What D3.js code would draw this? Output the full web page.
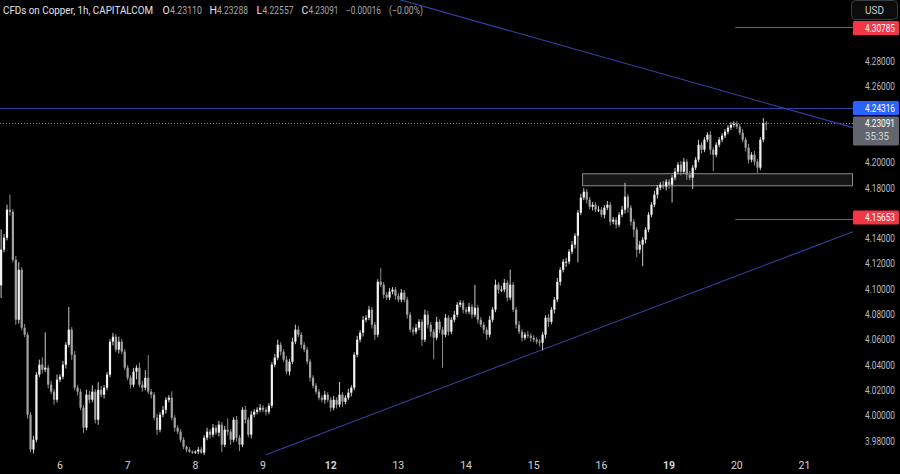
<!DOCTYPE html>
<html><head><meta charset="utf-8">
<script src="https://cdn.jsdelivr.net/npm/d3@7"></script>
<style>html,body{margin:0;padding:0;background:#000;overflow:hidden}svg{display:block}</style>
</head><body><svg id="c" width="900" height="474"></svg>
<script>
// ---- data ----
const firstOpen = 4.1030;
const closes = [
 // day 5 (partial)
 4.1312,4.1406,4.1628,4.1612,4.1232,4.0758,4.1153,4.0695,4.0640,4.0008,3.9732,3.9810,4.0324,4.0403,4.0364,4.0379,4.0245,4.0190,4.0126,4.0285,
 // day 6
 4.0308,4.0403,4.0561,4.0680,4.0482,4.0221,4.0190,4.0063,3.9905,4.0166,4.0126,4.0190,3.9968,4.0205,4.0166,4.0221,4.0324,4.0585,4.0624,4.0522,4.0585,4.0506,4.0379,
 // day 7
 4.0300,4.0245,4.0348,4.0379,4.0245,4.0221,4.0300,4.0190,4.0166,3.9984,3.9889,4.0008,4.0047,4.0126,4.0142,3.9984,3.9905,3.9874,3.9810,3.9755,3.9732,3.9716,3.9708,
 // day 8
 3.9716,3.9732,3.9708,3.9826,3.9874,3.9850,3.9905,3.9866,3.9929,3.9771,3.9889,3.9874,3.9810,3.9968,3.9826,3.9771,4.0047,3.9968,3.9850,4.0008,4.0031,4.0047,4.0063,
 // day 9
 4.0047,4.0031,4.0079,4.0403,4.0458,4.0561,4.0506,4.0443,4.0348,4.0427,4.0585,4.0680,4.0640,4.0561,4.0522,4.0427,4.0300,4.0237,4.0190,4.0142,4.0126,4.0166,4.0126,
 // day 12
 4.0063,4.0126,4.0087,4.0166,4.0110,4.0142,4.0182,4.0221,4.0482,4.0601,4.0656,4.0758,4.0774,4.0838,4.0719,4.0640,4.1058,4.1035,4.0956,4.0933,4.0980,4.0996,4.0948,
 // day 13
 4.0917,4.0972,4.0917,4.0798,4.0680,4.0664,4.0695,4.0742,4.0601,4.0798,4.0719,4.0664,4.0616,4.0742,4.0680,4.0640,4.0774,4.0664,4.0758,4.0798,4.0877,4.0893,4.0838,
 // day 14
 4.0822,4.0861,4.0798,4.0853,4.0758,4.0719,4.0680,4.0640,4.0758,4.0838,4.1035,4.0996,4.0996,4.1050,4.0933,4.1035,4.0838,4.0719,4.0664,4.0616,4.0640,4.0632,4.0616,
 // day 15
 4.0601,4.0585,4.0577,4.0640,4.0774,4.0742,4.0838,4.0917,4.1058,4.1153,4.1217,4.1217,4.1296,4.1351,4.1422,4.1604,4.1723,4.1770,4.1707,4.1651,4.1667,4.1628,4.1628,
 // day 16
 4.1588,4.1644,4.1667,4.1533,4.1549,4.1509,4.1588,4.1628,4.1731,4.1644,4.1533,4.1470,4.1312,4.1351,4.1391,4.1470,4.1588,4.1667,4.1746,4.1802,4.1825,4.1810,4.1849,
 // day 19
 4.1825,4.1881,4.1928,4.1983,4.1928,4.2007,4.1904,4.1881,4.1960,4.2023,4.2141,4.2102,4.2181,4.2220,4.2102,4.2062,4.2141,4.2181,4.2213,4.2244,4.2276,4.2299,4.2307,
 // day 20 (partial)
 4.2284,4.2236,4.2181,4.2118,4.2023,4.2062,4.2007,4.1960,4.2181,4.2311,4.23091
];
const wickUp = [
 .016,.003,.004,.012,.002,.003,.006,.002,.003,.002,.002,.003,.002,.004,.006,.028,.002,.003,.002,.004,
 .002,.003,.002,.018,.002,.003,.002,.002,.002,.004,.003,.005,.002,.006,.003,.002,.002,.002,.003,.002,.004,.002,.002,
 .002,.002,.003,.002,.004,.003,.006,.018,.002,.002,.003,.002,.003,.002,.002,.005,.002,.002,.002,.002,.001,.002,.001,
 .001,.002,.002,.002,.003,.002,.003,.002,.003,.002,.003,.009,.002,.002,.003,.002,.002,.003,.002,.003,.002,.002,.003,
 .002,.002,.002,.002,.003,.004,.002,.002,.003,.002,.003,.004,.003,.002,.002,.002,.002,.002,.002,.002,.002,.003,.002,
 .002,.003,.002,.010,.002,.002,.003,.002,.002,.003,.002,.003,.002,.003,.002,.002,.002,.011,.002,.002,.003,.002,.002,
 .002,.003,.002,.002,.002,.002,.003,.002,.002,.004,.003,.002,.002,.004,.002,.002,.003,.002,.002,.003,.002,.002,.002,
 .002,.003,.002,.018,.002,.002,.002,.002,.003,.002,.004,.002,.003,.003,.002,.012,.002,.002,.003,.002,.002,.003,.002,
 .002,.002,.002,.002,.002,.003,.002,.002,.003,.002,.002,.003,.002,.003,.002,.002,.003,.003,.002,.002,.002,.002,.003,
 .002,.002,.003,.002,.002,.002,.002,.003,.011,.002,.002,.002,.002,.003,.002,.002,.002,.002,.003,.002,.002,.003,.002,
 .002,.002,.003,.002,.003,.003,.002,.003,.002,.002,.004,.002,.002,.002,.003,.002,.002,.002,.002,.002,.002,.002,.002,
 .002,.002,.003,.002,.003,.002,.003,.002,.002,.004,.0018
];
const wickDn = [
 .010,.002,.002,.003,.002,.004,.003,.002,.002,.003,.002,.003,.002,.002,.003,.002,.003,.002,.004,.002,
 .002,.002,.003,.002,.004,.002,.003,.002,.004,.002,.003,.002,.003,.004,.002,.003,.002,.002,.003,.002,.003,.002,.002,
 .002,.003,.002,.006,.002,.003,.002,.002,.003,.002,.004,.002,.002,.003,.002,.002,.003,.002,.002,.002,.002,.001,.001,
 .001,.002,.001,.002,.002,.003,.002,.002,.003,.006,.002,.003,.004,.002,.003,.005,.002,.003,.002,.003,.002,.002,.002,
 .002,.003,.002,.002,.002,.002,.003,.002,.002,.003,.002,.002,.002,.003,.002,.002,.003,.002,.002,.002,.002,.003,.002,
 .003,.002,.003,.002,.004,.002,.002,.003,.002,.002,.002,.003,.002,.002,.003,.004,.002,.002,.003,.002,.002,.002,.003,
 .002,.002,.002,.003,.002,.003,.002,.002,.005,.002,.003,.004,.017,.002,.003,.026,.002,.003,.002,.002,.002,.002,.003,
 .002,.002,.003,.002,.003,.002,.003,.004,.002,.002,.002,.003,.002,.002,.003,.002,.002,.003,.002,.003,.002,.002,.003,
 .002,.002,.003,.006,.003,.004,.002,.003,.002,.003,.002,.004,.002,.002,.003,.021,.002,.002,.003,.002,.003,.002,.002,
 .002,.003,.002,.003,.002,.003,.002,.002,.003,.004,.003,.006,.006,.003,.017,.003,.002,.002,.002,.003,.002,.002,.003,
 .003,.014,.002,.002,.003,.002,.004,.002,.009,.002,.002,.003,.002,.002,.004,.013,.002,.002,.002,.002,.002,.002,.002,
 .002,.002,.002,.003,.003,.002,.003,.004,.002,.002,.0053
];
const dayLabels   = ["6","7","8","9","12","13","14","15","16","19","20","21"];
const dayStartIdx = [20, 43, 66, 89, 112, 135, 158, 181, 204, 227, 250, 273];
const weekStart   = ["12","19"];
const priceTicks  = [3.98,4.00,4.02,4.04,4.06,4.08,4.10,4.12,4.14,4.16,4.18,4.20,4.22,4.24,4.26,4.28,4.30];
const blueLevel   = 4.24316;
const lastPrice   = 4.23091;
const countdown   = "35:35";
const redLevels   = [4.30785, 4.15653];
const redStartIdx = 249.5;
const zone        = [4.1817, 4.1912];
const zoneStartIdx = 197.6;
const downTrend   = [[135.5, 4.3287], [289.5, 4.2276]];
const upTrend     = [[90, 3.9692], [289.5, 4.1454]];
const header = {title:"CFDs on Copper, 1h, CAPITALCOM", O:"4.23110", H:"4.23288", L:"4.22557", C:"4.23091", chg:"\u22120.00016", pct:"(\u22120.00%)"};

// ---- build candles ----
const candles = closes.map((c, i) => {
  const o = i === 0 ? firstOpen : closes[i - 1];
  return {i, o, c, h: Math.max(o, c) + wickUp[i], l: Math.min(o, c) - wickDn[i]};
});

const W = 900, H = 474, plotR = 853, plotB = 455;
const svg = d3.select("#c");
svg.append("rect").attr("width", W).attr("height", H).attr("fill", "#000");

const x = d3.scaleLinear().domain([0, 273]).range([1.1, 804.5]);
const y = d3.scaleLinear().domain([3.98, 4.30]).range([441, 36.04]);

svg.append("defs").append("clipPath").attr("id", "plot")
  .append("rect").attr("x", 0).attr("y", 0).attr("width", plotR).attr("height", plotB);
const g = svg.append("g").attr("clip-path", "url(#plot)");

// zone box
g.append("rect")
  .attr("x", x(zoneStartIdx)).attr("y", y(zone[1]))
  .attr("width", plotR - x(zoneStartIdx) - 0.5).attr("height", y(zone[0]) - y(zone[1]))
  .attr("fill", "#161616").attr("stroke", "#8a8a8a").attr("stroke-width", 1);

// horizontal lines
g.append("line").attr("x1", 0).attr("x2", plotR)
  .attr("y1", Math.round(y(blueLevel)) + 0.5).attr("y2", Math.round(y(blueLevel)) + 0.5)
  .attr("stroke", "#2f3fa8").attr("stroke-width", 1);
g.append("line").attr("x1", 0).attr("x2", plotR)
  .attr("y1", Math.round(y(lastPrice)) + 0.5).attr("y2", Math.round(y(lastPrice)) + 0.5)
  .attr("stroke", "#8c8f96").attr("stroke-width", 1).attr("stroke-dasharray", "1,2");
g.selectAll("line.red").data(redLevels).enter().append("line")
  .attr("x1", x(redStartIdx)).attr("x2", plotR)
  .attr("y1", d => Math.round(y(d)) + 1.5).attr("y2", d => Math.round(y(d)) + 1.5)
  .attr("stroke", "#e0323f").attr("stroke-width", 1.2);

// trend lines
[downTrend, upTrend].forEach(t => {
  g.append("line")
    .attr("x1", x(t[0][0])).attr("y1", y(t[0][1]))
    .attr("x2", x(t[1][0])).attr("y2", y(t[1][1]))
    .attr("stroke", "#3444b0").attr("stroke-width", 1.1);
});

// candles
const upCol = "#f2f2f2", dnCol = "#a3a3a3";
const cg = g.append("g");
cg.selectAll("rect.wick").data(candles).enter().append("rect")
  .attr("x", d => x(d.i) - 0.5).attr("width", 1)
  .attr("y", d => y(d.h)).attr("height", d => Math.max(0.5, y(d.l) - y(d.h)))
  .attr("fill", d => d.c >= d.o ? "#c8c8c8" : "#8e8e8e");
cg.selectAll("rect.body").data(candles).enter().append("rect")
  .attr("x", d => x(d.i) - 1.1).attr("width", 2.2)
  .attr("y", d => y(Math.max(d.o, d.c)))
  .attr("height", d => Math.max(1, Math.abs(y(d.o) - y(d.c))))
  .attr("fill", d => d.c >= d.o ? upCol : dnCol);

// price axis labels (ticks hidden behind a price box are not drawn)
const font = "Roboto, 'Noto Sans', sans-serif";
const boxes = [
  {v: redLevels[0], col: "#f23645", h: 14, dy: -5},
  {v: blueLevel,    col: "#2962ff", h: 14, dy: -7},
  {v: lastPrice,    col: "#62656e", h: 29, dy: -7},
  {v: redLevels[1], col: "#f23645", h: 14, dy: -7}
];
const boxRects = boxes.map(b => ({top: y(b.v) + b.dy, bot: y(b.v) + b.dy + b.h}));
const visibleTicks = priceTicks.filter(t => {
  const cy = y(t);
  return !boxRects.some(r => cy > r.top - 2 && cy < r.bot + 2);
});
svg.selectAll("text.pt").data(visibleTicks).enter().append("text")
  .attr("x", 865).attr("y", d => y(d) + 3.6)
  .attr("font-family", font).attr("font-size", 10).attr("fill", "#b8bbc2")
  .attr("textLength", 30).attr("lengthAdjust", "spacingAndGlyphs")
  .text(d => d.toFixed(5));

// price boxes
boxes.forEach(b => {
  const cy = y(b.v);
  svg.append("rect").attr("x", 853).attr("y", cy + b.dy).attr("width", 46).attr("height", b.h)
    .attr("rx", 1.5).attr("fill", b.col);
  svg.append("text").attr("x", 865).attr("y", cy + b.dy + 10.6)
    .attr("font-family", font).attr("font-size", 10).attr("fill", "#ffffff")
    .attr("textLength", 30).attr("lengthAdjust", "spacingAndGlyphs")
    .text(b.v.toFixed(5));
});
svg.append("text").attr("x", 865).attr("y", y(lastPrice) + 16.5)
  .attr("font-family", font).attr("font-size", 10).attr("fill", "#d6d7da")
  .attr("textLength", 24).attr("lengthAdjust", "spacingAndGlyphs").text(countdown);

// USD box
svg.append("rect").attr("x", 851.5).attr("y", 0.5).attr("width", 46).attr("height", 19).attr("rx", 4)
  .attr("fill", "#0c0c0c").attr("stroke", "#3b3d44");
svg.append("text").attr("x", 874.5).attr("y", 14).attr("text-anchor", "middle")
  .attr("font-family", font).attr("font-size", 10).attr("fill", "#c8cad0").text("USD");

// time axis labels
svg.selectAll("text.day").data(dayLabels).enter().append("text")
  .attr("x", (d, k) => x(dayStartIdx[k])).attr("y", 469).attr("text-anchor", "middle")
  .attr("font-family", font).attr("font-size", 10.5)
  .attr("font-weight", d => weekStart.includes(d) ? "bold" : "normal")
  .attr("fill", "#d1d4dc").text(d => d);

// header
const hdr = [
  {t: header.title, x: 3, w: 150, c: "#e0e3ea"},
  {t: "O", x: 162.5, c: "#e0e3ea"}, {t: header.O, x: 170, w: 32, c: "#a6a9b0"},
  {t: "H", x: 209.5, c: "#e0e3ea"}, {t: header.H, x: 217, w: 31, c: "#a6a9b0"},
  {t: "L", x: 256.5, c: "#e0e3ea"}, {t: header.L, x: 262.5, w: 31, c: "#a6a9b0"},
  {t: "C", x: 301.5, c: "#e0e3ea"}, {t: header.C, x: 308.5, w: 30, c: "#a6a9b0"},
  {t: header.chg, x: 346, w: 35, c: "#a6a9b0"}, {t: header.pct, x: 389, w: 34, c: "#a6a9b0"}
];
hdr.forEach(h => {
  const t = svg.append("text").attr("x", h.x).attr("y", 14)
    .attr("font-family", font).attr("font-size", 10.5).attr("fill", h.c).text(h.t);
  if (h.w) t.attr("textLength", h.w).attr("lengthAdjust", "spacingAndGlyphs");
});
</script>
</body></html>
